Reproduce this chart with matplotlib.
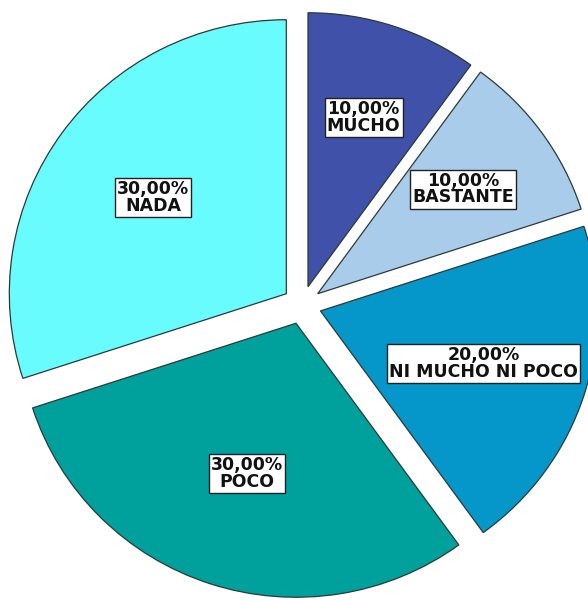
import numpy as np
import matplotlib
matplotlib.use("Agg")
import matplotlib.pyplot as plt

categories = ["MUCHO", "BASTANTE", "NI MUCHO NI POCO", "POCO", "NADA"]
values = [10.0, 10.0, 20.0, 30.0, 30.0]
colors = ["#3F51A8", "#A9CCEB", "#0596CA", "#00A09C", "#69FCFF"]

fig = plt.figure(figsize=(5.88, 6.01), dpi=100)
ax = fig.add_axes([0, 0, 1, 1])

explode = [0.07] * len(values)
wedges, _ = ax.pie(values, colors=colors, startangle=90, counterclock=False,
                   explode=explode, radius=1.0,
                   wedgeprops=dict(edgecolor="#2a3a3a", linewidth=0.9))

# pixel scales (slightly elliptical pie as in reference)
sx, sy = 277.0, 274.0
cx, cy = 302.0, 305.0
ax.set_xlim(-cx / sx, (588 - cx) / sx)
ax.set_ylim(-(601 - cy) / sy, cy / sy)
ax.set_aspect("auto")
ax.axis("off")

label_r = [0.65, 0.65, 0.62, 0.575, 0.595]
for w, v, c, lr in zip(wedges, values, categories, label_r):
    ang = np.deg2rad((w.theta1 + w.theta2) / 2)
    x = w.center[0] + lr * np.cos(ang)
    y = w.center[1] + lr * np.sin(ang)
    txt = f"{v:.2f}%".replace(".", ",") + "\n" + c
    ax.text(x, y, txt, ha="center", va="center", fontsize=12.5,
            fontweight="bold", family="DejaVu Sans", linespacing=0.92,
            color="#111111",
            bbox=dict(boxstyle="square,pad=0.12", facecolor="white",
                      edgecolor="#222222", linewidth=1.0))

fig.savefig("out.png", dpi=100, facecolor="white")
